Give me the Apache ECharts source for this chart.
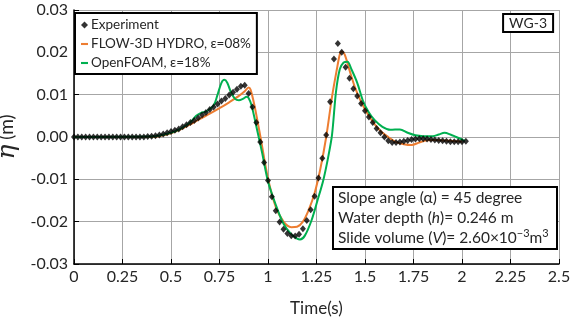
<!DOCTYPE html>
<html>
<head>
<meta charset="utf-8">
<script src="https://cdn.jsdelivr.net/npm/echarts@6/dist/echarts.min.js"></script>
<style>
  html, body { margin: 0; padding: 0; background: #fff; }
  #chart { width: 570px; height: 324px; }
</style>
</head>
<body>
<div id="chart"></div>
<script>
// measured wave record, WG-3
const expTime = [
  0.00, 0.02, 0.04, 0.06, 0.08, 0.10, 0.12, 0.14, 0.16, 0.18,
  0.20, 0.22, 0.24, 0.26, 0.28, 0.30, 0.32, 0.34, 0.36, 0.38,
  0.40, 0.42, 0.44, 0.46, 0.48, 0.50, 0.52, 0.54, 0.56, 0.58,
  0.60, 0.62, 0.64, 0.66, 0.68, 0.70, 0.72, 0.74, 0.76, 0.78,
  0.80, 0.82, 0.84, 0.86, 0.88, 0.90, 0.92, 0.94, 0.96, 0.98,
  1.00, 1.02, 1.04, 1.06, 1.08, 1.10, 1.12, 1.14, 1.16, 1.18,
  1.20, 1.22, 1.24, 1.26, 1.28, 1.30, 1.32, 1.34, 1.36, 1.38,
  1.40, 1.42, 1.44, 1.46, 1.48, 1.50, 1.52, 1.54, 1.56, 1.58,
  1.60, 1.62, 1.64, 1.66, 1.68, 1.70, 1.72, 1.74, 1.76, 1.78,
  1.80, 1.82, 1.84, 1.86, 1.88, 1.90, 1.92, 1.94, 1.96, 1.98,
  2.00, 2.02
];
const expEta = [
  0, 0, 0, 0, 0, 0, 0, 0, 0, 0,
  0, 0, 0, 0, 0, 0, 0, 0, 0, 0.0001,
  0.0002, 0.0003, 0.0005, 0.0007, 0.0010, 0.0013, 0.0016, 0.0019, 0.0024, 0.0029,
  0.0034, 0.0039, 0.0045, 0.0052, 0.0058, 0.0065, 0.0071, 0.0078, 0.0085, 0.0091,
  0.0099, 0.0106, 0.0113, 0.0120, 0.0122, 0.0103, 0.0071, 0.0034, -0.0012, -0.0060,
  -0.0103, -0.0141, -0.0174, -0.0201, -0.0218, -0.0228, -0.0233, -0.0234, -0.0230, -0.0217,
  -0.0197, -0.0172, -0.0140, -0.0097, -0.0050, 0.0005, 0.0083, 0.0184, 0.0221, 0.0200,
  0.0165, 0.0139, 0.0114, 0.0097, 0.0079, 0.0062, 0.0047, 0.0034, 0.0020, 0.0010,
  0.0000, -0.0009, -0.0013, -0.0013, -0.0012, -0.0010, -0.0008, -0.0006, -0.0005, -0.0004,
  -0.0004, -0.0005, -0.0006, -0.0007, -0.0008, -0.0009, -0.0010, -0.0011, -0.0011, -0.0011,
  -0.0011, -0.0010
];

// FLOW-3D HYDRO
const flowTime = [
  0, 0.40, 0.45, 0.50, 0.55, 0.60, 0.65, 0.70, 0.75, 0.80,
  0.85, 0.88, 0.90, 0.91, 0.93, 0.96, 1.00, 1.04, 1.08, 1.12,
  1.15, 1.18, 1.21, 1.24, 1.27, 1.30, 1.33, 1.355, 1.37, 1.38,
  1.395, 1.42, 1.45, 1.49, 1.54, 1.58, 1.62, 1.66, 1.70, 1.74,
  1.78, 1.82, 1.86, 1.90, 1.94, 1.98, 2.00
];
const flowEta = [
  0, 0, 0.0003, 0.0009, 0.0018, 0.0030, 0.0043, 0.0055, 0.0068, 0.0082,
  0.0097, 0.0108, 0.0117, 0.0112, 0.0075, 0.0003, -0.0098, -0.0165, -0.0200, -0.0213,
  -0.0212, -0.0200, -0.0172, -0.0133, -0.0075, 0.0000, 0.0095, 0.0160, 0.0195, 0.0202,
  0.0195, 0.0158, 0.0115, 0.0074, 0.0036, 0.0014, 0.0000, -0.0012, -0.0017, -0.0019,
  -0.0013, -0.0008, -0.0007, -0.0008, -0.0009, -0.0010, -0.0011
];

// OpenFOAM
const foamTime = [
  0, 0.40, 0.50, 0.55, 0.60, 0.63, 0.655, 0.68, 0.72, 0.74,
  0.76, 0.775, 0.79, 0.81, 0.83, 0.85, 0.87, 0.89, 0.90, 0.915,
  0.94, 0.97, 1.00, 1.04, 1.08, 1.12, 1.15, 1.165, 1.19, 1.225,
  1.255, 1.285, 1.31, 1.33, 1.35, 1.37, 1.39, 1.41, 1.43, 1.46,
  1.49, 1.52, 1.55, 1.59, 1.63, 1.68, 1.72, 1.76, 1.80, 1.85,
  1.88, 1.91, 1.94, 1.97, 2.00, 2.015
];
const foamEta = [
  0, 0.0001, 0.0010, 0.0020, 0.0035, 0.0050, 0.0057, 0.0060, 0.0075, 0.0100,
  0.0128, 0.0135, 0.0128, 0.0105, 0.0090, 0.0087, 0.0090, 0.0095, 0.0092, 0.0075,
  0.0025, -0.0038, -0.0105, -0.0160, -0.0205, -0.0230, -0.0240, -0.0242, -0.0233, -0.0196,
  -0.0150, -0.0102, -0.0048, 0.0005, 0.0105, 0.0160, 0.0176, 0.0178, 0.0160, 0.0128,
  0.0085, 0.0058, 0.0040, 0.0024, 0.0017, 0.0018, 0.0010, 0.0004, 0.0002, 0.0002,
  0.0006, 0.0010, 0.0006, 0.0000, -0.0006, -0.0009
];

const xTicks = [0, 0.25, 0.5, 0.75, 1, 1.25, 1.5, 1.75, 2, 2.25, 2.5];
const yTicks = [-0.03, -0.02, -0.01, 0, 0.01, 0.02, 0.03];

const seriesNames = ['Experiment', 'FLOW-3D HYDRO, ε=08%', 'OpenFOAM, ε=18%'];
const infoLines = [
  '{n|Slope angle (α) = 45 degree}',
  '{n|Water depth (}{i|h}{n|)= 0.246 m}',
  '{n|Slide volume (}{i|V}{n|)= 2.60×10}{s|−3}{n|m}{s|3}'
];

const FONT = 'Lato, "Open Sans", sans-serif';
const pairs = (xs, ys) => xs.map((x, i) => [x, ys[i]]);

const chart = echarts.init(document.getElementById('chart'), null, { renderer: 'canvas' });

chart.setOption({
  animation: false,
  backgroundColor: '#fff',
  textStyle: { fontFamily: FONT, color: '#262626' },
  grid: { left: 74, right: 11, top: 10, bottom: 60, containLabel: false, outerBoundsMode: 'none' },
  title: [
    {
      text: 'WG-3',
      right: 17,
      top: 14,
      padding: [2, 6, 2, 6],
      borderColor: '#000',
      borderWidth: 2,
      backgroundColor: '#fff',
      textStyle: { fontFamily: FONT, fontSize: 14, fontWeight: 'normal', color: '#262626' }
    },
    {
      text: infoLines.join('\n'),
      left: 333,
      top: 185,
      padding: [3, 9, 3, 5],
      borderColor: '#000',
      borderWidth: 2,
      backgroundColor: '#fff',
      textStyle: {
        fontWeight: 'normal',
        rich: {
          n: { fontFamily: FONT, fontSize: 15.5, fontWeight: 'normal', color: '#262626', lineHeight: 20 },
          i: { fontFamily: FONT, fontSize: 15.5, fontWeight: 'normal', fontStyle: 'italic', color: '#262626', lineHeight: 20 },
          s: { fontFamily: FONT, fontSize: 11, fontWeight: 'normal', color: '#262626', lineHeight: 12, verticalAlign: 'top' }
        }
      }
    }
  ],
  legend: {
    orient: 'vertical',
    left: 75,
    top: 13,
    padding: [5, 6, 4, 6],
    itemGap: 5,
    itemWidth: 7,
    itemHeight: 7,
    borderColor: '#000',
    borderWidth: 2,
    backgroundColor: '#fff',
    textStyle: { fontFamily: FONT, fontSize: 13.5, color: '#262626', padding: [0, 0, 0, -2] },
    data: [
      { name: seriesNames[0], icon: 'diamond' },
      { name: seriesNames[1], icon: 'path://M0,0 L10,0 L10,3 L0,3 Z', itemStyle: { borderWidth: 0 } },
      { name: seriesNames[2], icon: 'path://M0,0 L10,0 L10,3 L0,3 Z', itemStyle: { borderWidth: 0 } }
    ]
  },
  xAxis: {
    type: 'value',
    min: 0,
    max: 2.5,
    interval: 0.25,
    name: 'Time(s)',
    nameLocation: 'middle',
    nameGap: 36,
    nameTextStyle: { fontFamily: FONT, fontSize: 17, color: '#262626' },
    axisLine: { onZero: false, lineStyle: { color: '#000', width: 1.5 } },
    axisTick: { inside: true, length: 5, lineStyle: { color: '#000' } },
    axisLabel: {
      fontFamily: FONT, fontSize: 16, color: '#262626', margin: 5,
      formatter: (v) => (xTicks.indexOf(+v.toFixed(2)) >= 0 ? String(+v.toFixed(2)) : '')
    },
    splitLine: { show: true, lineStyle: { color: '#a6a6a6', width: 1 } }
  },
  yAxis: {
    type: 'value',
    min: -0.03,
    max: 0.03,
    interval: 0.01,
    name: '{i|η} {n|(m)}',
    nameLocation: 'middle',
    nameGap: 50,
    nameTextStyle: {
      rich: {
        i: { fontFamily: '"DejaVu Serif", serif', fontStyle: 'italic', fontSize: 25, color: '#262626' },
        n: { fontFamily: FONT, fontSize: 19, color: '#262626' }
      },
      fontFamily: FONT, fontSize: 19, color: '#262626'
    },
    axisLine: { onZero: false, lineStyle: { color: '#000', width: 1.5 } },
    axisTick: { inside: true, length: 5, lineStyle: { color: '#000' } },
    axisLabel: {
      fontFamily: FONT, fontSize: 16, color: '#262626', margin: 6,
      formatter: (v) => {
        const r = Math.round(v * 100) / 100;
        return yTicks.indexOf(r) >= 0 ? (r === 0 ? '0.00' : r.toFixed(2)) : '';
      }
    },
    splitLine: { show: true, lineStyle: { color: '#a6a6a6', width: 1 } }
  },
  series: [
    {
      name: seriesNames[1],
      type: 'line',
      data: pairs(flowTime, flowEta),
      showSymbol: false,
      smooth: 0.3,
      color: '#ED7D31',
      lineStyle: { color: '#ED7D31', width: 2 },
      z: 2
    },
    {
      name: seriesNames[2],
      type: 'line',
      data: pairs(foamTime, foamEta),
      showSymbol: false,
      smooth: 0.3,
      color: '#00B050',
      lineStyle: { color: '#00B050', width: 2 },
      z: 3
    },
    {
      name: seriesNames[0],
      type: 'scatter',
      data: pairs(expTime, expEta),
      symbol: 'diamond',
      symbolSize: [6, 7],
      itemStyle: { color: '#000' },
      z: 4
    }
  ]
});
</script>
</body>
</html>
